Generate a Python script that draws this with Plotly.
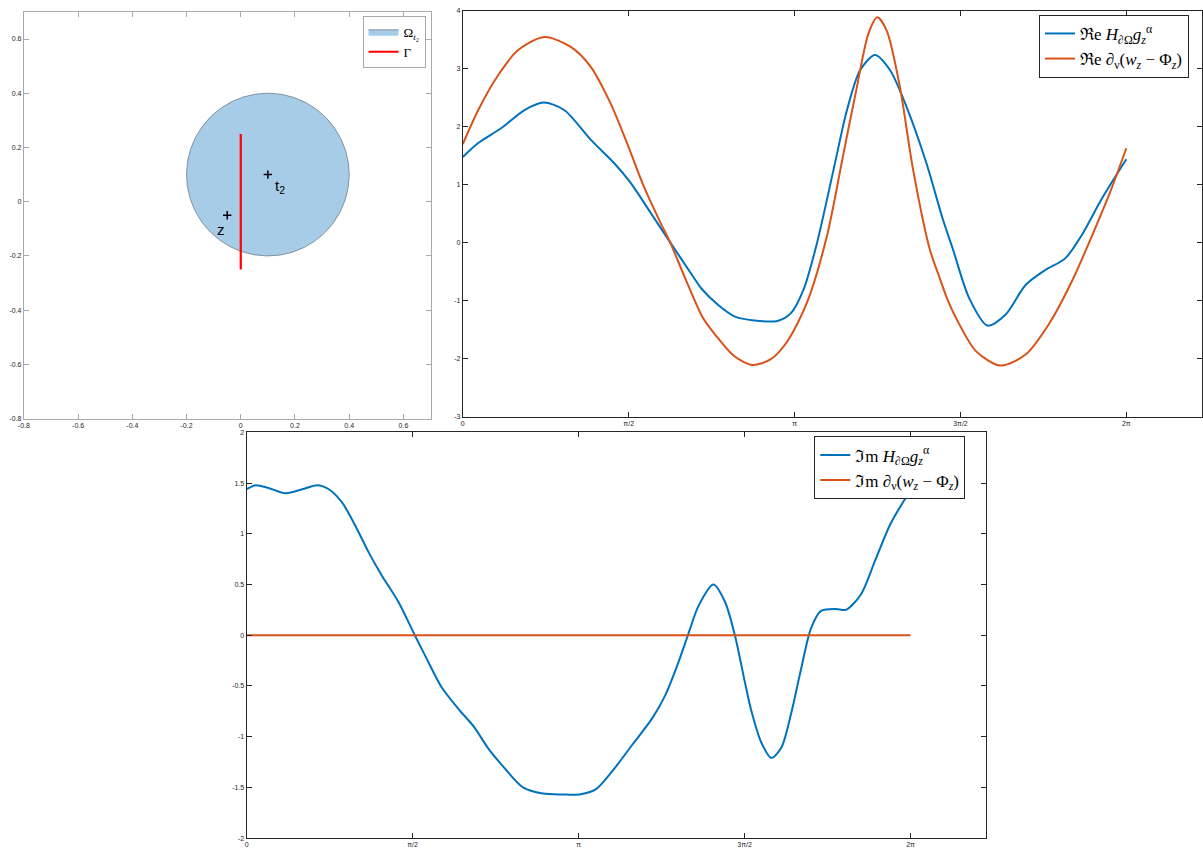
import numpy as np
import plotly.graph_objects as go

PI = np.pi

# ---------------- data ----------------
# Top-left: domain geometry
disk_center = [0.1, 0.1]
disk_radius = 0.3
gamma_x = [0.0, 0.0]
gamma_y = [-0.25, 0.25]
point_names = ["z", "t<sub>2</sub>"]
point_x = [-0.05, 0.1]
point_y = [-0.05, 0.1]

# Top-right: real parts
re_h_t = [0.0, 0.146, 0.365, 0.584, 0.766, 0.960, 1.210, 1.430, 1.586, 1.774, 1.962, 2.150,
          2.259, 2.416, 2.572, 2.760, 2.980, 3.105, 3.230, 3.356, 3.512, 3.638, 3.763, 3.904,
          4.045, 4.201, 4.389, 4.545, 4.639, 4.796, 4.968, 5.141, 5.329, 5.517, 5.705, 5.861,
          6.048, 6.283]
re_h = [1.48, 1.72, 1.98, 2.29, 2.42, 2.29, 1.78, 1.38, 1.04, 0.53, 0.01, -0.50,
        -0.79, -1.07, -1.27, -1.34, -1.35, -1.22, -0.79, 0.01, 1.27, 2.29, 2.98, 3.24,
        2.98, 2.35, 1.38, 0.41, -0.10, -0.96, -1.43, -1.24, -0.73, -0.47, -0.27, 0.13,
        0.75, 1.44]

re_d_t = [0.0, 0.146, 0.334, 0.521, 0.772, 1.022, 1.210, 1.398, 1.555, 1.712, 1.868, 1.962,
          2.119, 2.275, 2.400, 2.572, 2.745, 2.917, 3.074, 3.262, 3.450, 3.606, 3.732, 3.841,
          3.925, 4.014, 4.139, 4.263, 4.420, 4.514, 4.577, 4.671, 4.859, 5.094, 5.329, 5.548,
          5.767, 5.986, 6.142, 6.283]
re_d = [1.70, 2.29, 2.89, 3.32, 3.55, 3.38, 3.04, 2.41, 1.72, 0.98, 0.36, 0.01,
        -0.67, -1.30, -1.61, -1.96, -2.11, -2.01, -1.70, -1.02, 0.13, 1.55, 2.69, 3.61,
        3.89, 3.66, 2.69, 1.27, -0.10, -0.60, -0.92, -1.30, -1.87, -2.12, -1.93, -1.41,
        -0.67, 0.24, 0.93, 1.63]

# Bottom: imaginary parts
im_h_t = [0.0, 0.088, 0.213, 0.370, 0.527, 0.668, 0.778, 0.903, 1.029, 1.154, 1.279, 1.436,
          1.592, 1.718, 1.844, 2.000, 2.157, 2.283, 2.408, 2.615, 2.803, 2.991, 3.148, 3.304,
          3.461, 3.650, 3.838, 3.963, 4.089, 4.183, 4.277, 4.418, 4.527, 4.621, 4.715, 4.778,
          4.872, 4.966, 5.060, 5.154, 5.248, 5.342, 5.436, 5.577, 5.671, 5.812, 5.953, 6.094,
          6.283]
im_h = [1.44, 1.48, 1.45, 1.40, 1.44, 1.48, 1.44, 1.31, 1.08, 0.82, 0.59, 0.33,
        0.0, -0.26, -0.51, -0.72, -0.91, -1.11, -1.27, -1.50, -1.56, -1.57, -1.57, -1.52,
        -1.34, -1.08, -0.82, -0.59, -0.26, 0.02, 0.29, 0.50, 0.33, 0.0, -0.46, -0.75,
        -1.06, -1.21, -1.11, -0.77, -0.33, 0.07, 0.24, 0.26, 0.25, 0.40, 0.75, 1.10,
        1.43]
im_d_t = [0.0, 6.283]
im_d = [0.0, 0.0]

# tick labels
xy_ticks = [-0.8, -0.6, -0.4, -0.2, 0, 0.2, 0.4, 0.6]
xy_ticktext = ["-0.8", "-0.6", "-0.4", "-0.2", "0", "0.2", "0.4", "0.6"]
pi_ticks = [0, PI / 2, PI, 3 * PI / 2, 2 * PI]
pi_ticktext = ["0", "π/2", "π", "3π/2", "2π"]
re_yticks = [-3, -2, -1, 0, 1, 2, 3, 4]
re_yticktext = ["-3", "-2", "-1", "0", "1", "2", "3", "4"]
im_yticks = [-2, -1.5, -1, -0.5, 0, 0.5, 1, 1.5, 2]
im_yticktext = ["-2", "-1.5", "-1", "-0.5", "0", "0.5", "1", "1.5", "2"]

# ---------------- styles ----------------
W, H = 1203, 849
BLUE = "#0072BD"
ORANGE = "#D95319"
AX = "#262626"
LEG_FONT = dict(family="Liberation Serif, DejaVu Serif, serif", size=17, color="#000000")
TICK_FONT = dict(family="Liberation Sans, Arial, sans-serif", size=7, color=AX)

fig = go.Figure()

# ---- top-left: disk, Gamma, points ----
theta = np.linspace(0, 2 * PI, 241)
fig.add_trace(go.Scatter(
    x=disk_center[0] + disk_radius * np.cos(theta),
    y=disk_center[1] + disk_radius * np.sin(theta),
    mode="lines", fill="toself", fillcolor="#A6CCE8",
    line=dict(color="#5f6f7a", width=0.7),
    name="Ω<sub><i>t</i>₂</sub>", xaxis="x", yaxis="y", legend="legend"))
fig.add_trace(go.Scatter(
    x=gamma_x, y=gamma_y, mode="lines", line=dict(color="#FF0000", width=2.2),
    name="Γ", xaxis="x", yaxis="y", legend="legend"))
fig.add_trace(go.Scatter(
    x=point_x, y=point_y, mode="markers",
    marker=dict(symbol="cross-thin", size=6, line=dict(color="#000000", width=1.5)),
    showlegend=False, xaxis="x", yaxis="y"))

# ---- top-right: real parts ----
fig.add_trace(go.Scatter(
    x=re_h_t, y=re_h, mode="lines", line=dict(color=BLUE, width=2, shape="spline", smoothing=0.8),
    name="ℜe <i>H</i><sub>∂Ω</sub><i>g</i><sub><i>z</i></sub><sup>α</sup>",
    xaxis="x2", yaxis="y2", legend="legend2"))
fig.add_trace(go.Scatter(
    x=re_d_t, y=re_d, mode="lines", line=dict(color=ORANGE, width=2, shape="spline", smoothing=0.8),
    name="ℜe ∂<sub>ν</sub>(<i>w</i><sub><i>z</i></sub> − Φ<sub><i>z</i></sub>)",
    xaxis="x2", yaxis="y2", legend="legend2"))

# ---- bottom: imaginary parts ----
fig.add_trace(go.Scatter(
    x=im_h_t, y=im_h, mode="lines", line=dict(color=BLUE, width=2, shape="spline", smoothing=0.8),
    name="ℑm <i>H</i><sub>∂Ω</sub><i>g</i><sub><i>z</i></sub><sup>α</sup>",
    xaxis="x3", yaxis="y3", legend="legend3"))
fig.add_trace(go.Scatter(
    x=im_d_t, y=im_d, mode="lines", line=dict(color=ORANGE, width=2),
    name="ℑm ∂<sub>ν</sub>(<i>w</i><sub><i>z</i></sub> − Φ<sub><i>z</i></sub>)",
    xaxis="x3", yaxis="y3", legend="legend3"))

# point labels
label_shift = [(-6, -14), (12, -12)]
for name, px, py, (dx, dy) in zip(point_names, point_x, point_y, label_shift):
    fig.add_annotation(x=px, y=py, xref="x", yref="y", text=name, showarrow=False,
                       xshift=dx, yshift=dy,
                       font=dict(family="Liberation Sans, Arial, sans-serif", size=15, color="#000000"))


def axis(domain, rng, tickvals, ticktext, linecolor, anchor):
    return dict(domain=domain, range=rng, tickvals=tickvals, ticktext=ticktext, anchor=anchor,
                ticks="inside", ticklen=5, tickwidth=1, tickcolor=linecolor,
                showline=True, linecolor=linecolor, linewidth=1, mirror="ticks",
                showgrid=False, zeroline=False, tickfont=TICK_FONT, fixedrange=True)


def legend_box(x, y, xanchor):
    return dict(x=x, y=y, xanchor=xanchor, yanchor="top", xref="paper", yref="paper",
                bgcolor="#FFFFFF", bordercolor=AX, borderwidth=1, font=LEG_FONT,
                itemwidth=30, tracegroupgap=0)


fig.update_layout(
    width=W, height=H, margin=dict(l=0, r=0, t=0, b=0),
    paper_bgcolor="#FFFFFF", plot_bgcolor="#FFFFFF",
    xaxis=axis([18 / W, 427 / W], [-0.8, 0.7], xy_ticks, xy_ticktext, "#a8a8a8", "y"),
    yaxis=axis([1 - 418 / H, 1 - 8 / H], [-0.8, 0.7], xy_ticks, xy_ticktext, "#a8a8a8", "x"),
    xaxis2=axis([459.5 / W, 1.0], [0, 7], pi_ticks, pi_ticktext, AX, "y2"),
    yaxis2=axis([1 - 416 / H, 1 - 7 / H], [-3, 4], re_yticks, re_yticktext, AX, "x2"),
    xaxis3=axis([242 / W, 986 / W], [0, 7], pi_ticks, pi_ticktext, AX, "y3"),
    yaxis3=axis([1 - 841 / H, 1 - 432 / H], [-2, 2], im_yticks, im_yticktext, AX, "x3"),
    legend=legend_box(422 / W, 1 - 12 / H, "right"),
    legend2=legend_box(1039 / W, 1 - 11 / H, "left"),
    legend3=legend_box(813 / W, 1 - 436 / H, "left"),
)
fig.update_layout(legend=dict(bordercolor="#a8a8a8", font=dict(size=13)))

fig.write_html(
    "out.html",
    config={"displayModeBar": False},
    post_script="document.body.style.margin='0';document.body.style.overflow='hidden';"
                "document.documentElement.style.overflow='hidden';",
)
